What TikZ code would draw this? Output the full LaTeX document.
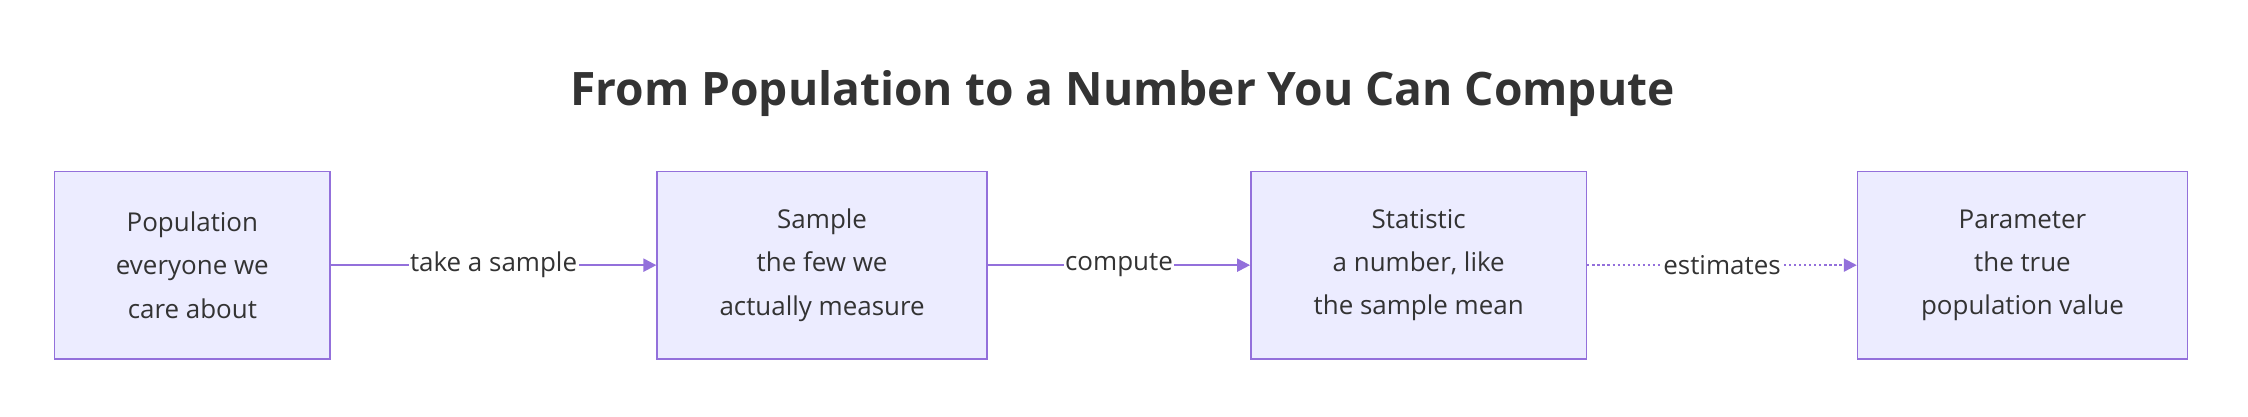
\documentclass[tikz,border=0pt]{standalone}
\usepackage{fontspec}
\setmainfont{Open Sans}
\usetikzlibrary{arrows.meta}
\definecolor{nfill}{HTML}{ECECFF}
\definecolor{nstroke}{HTML}{9370DB}
\definecolor{txt}{HTML}{333333}
\begin{document}
\begin{tikzpicture}[x=1pt,y=-1pt,
 box/.style={draw=nstroke,fill=nfill,line width=1pt,text=txt,font=\fontsize{18}{30}\selectfont,align=center,inner sep=0pt},
 conn/.style={draw=nstroke,line width=1.5pt,-{Triangle[length=9pt,width=9pt]}},
 lbl/.style={fill=white,text=txt,font=\fontsize{18}{22}\selectfont,inner sep=1pt}]
\useasboundingbox (0,0) rectangle (1560,289);
\node[text=txt,font=\fontsize{32}{38}\selectfont\bfseries] (title) at (779,65) {From Population to a Number You Can Compute};
\node[box,minimum width=191pt,minimum height=130pt] (pop) at (133.5,184) {Population\\everyone we\\care about};
\node[box,minimum width=229pt,minimum height=130pt] (sam) at (570.5,184) {Sample\\the few we\\actually measure};
\node[box,minimum width=233pt,minimum height=130pt] (sta) at (984.5,184) {Statistic\\a number, like\\the sample mean};
\node[box,minimum width=229pt,minimum height=130pt] (par) at (1403.5,184) {Parameter\\the true\\population value};
\draw[conn] (pop) -- node[lbl] {take a sample} (sam);
\draw[conn] (sam) -- node[lbl] {compute} (sta);
\draw[conn,dotted,line width=1.5pt] (sta) -- node[lbl] {estimates} (par);
\end{tikzpicture}
\end{document}
